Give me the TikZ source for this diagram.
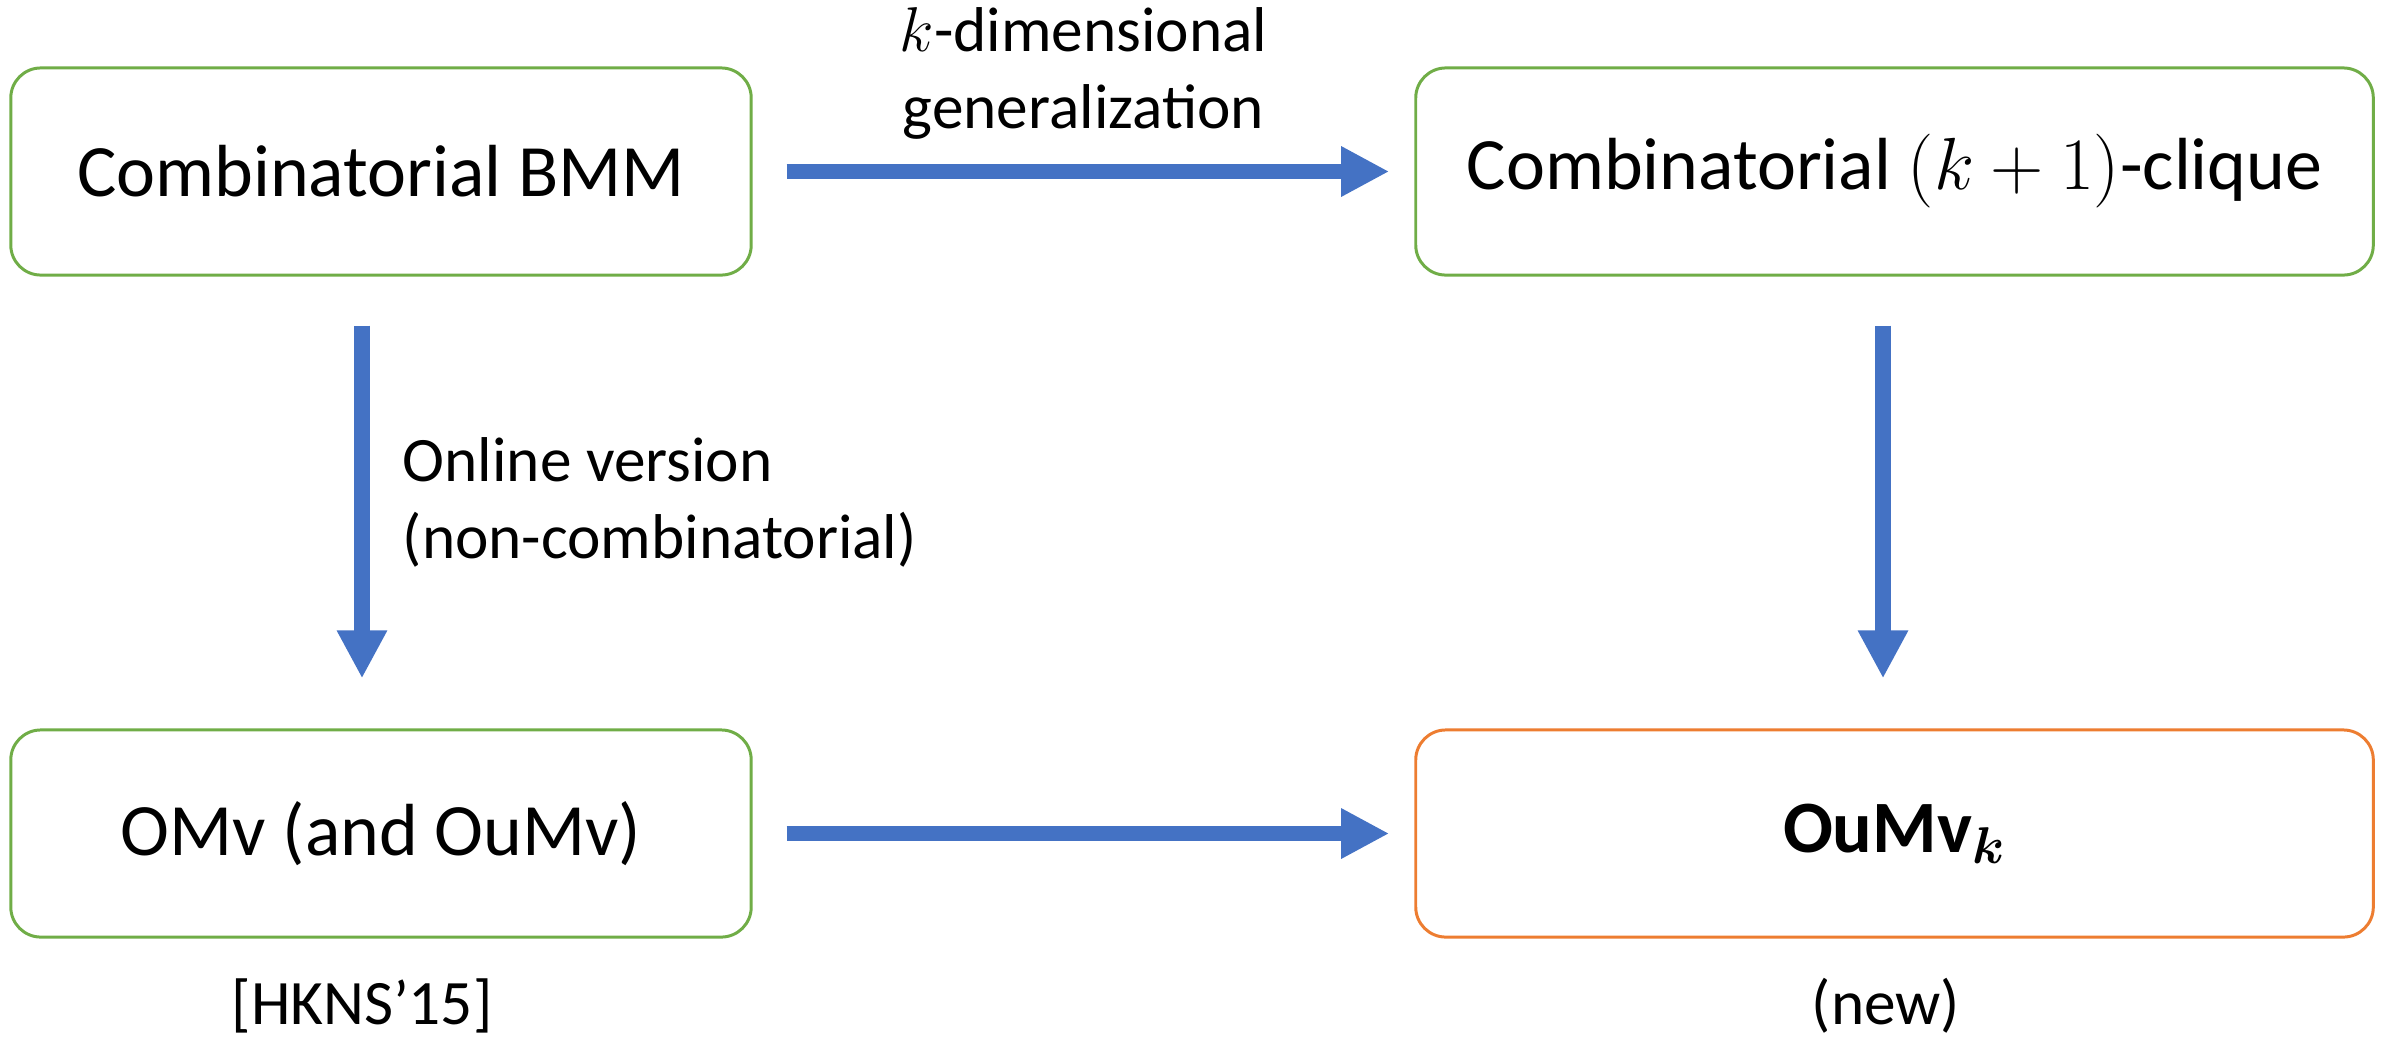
\RequirePackage{fix-cm}
\documentclass[tikz,border=0pt]{standalone}
\usepackage{amsmath,amssymb}
\usepackage{fontspec}
\setmainfont{Carlito}
\usepackage{xcolor}
\usetikzlibrary{positioning,calc,arrows.meta}
\definecolor{boxgreen}{HTML}{70AD47}
\definecolor{boxorange}{HTML}{ED7D31}
\definecolor{arrowblue}{HTML}{4472C4}

\begin{document}
\begin{tikzpicture}[x=0.01cm,y=-0.01cm,
        problem/.style={draw=boxgreen, line width=0.85pt, rounded corners=0.3cm, minimum height=2.07cm, inner sep=0pt, font=\fontsize{21}{25}\selectfont},
        reduce/.style={draw=arrowblue, line width=0.156cm, -{Triangle[length=0.48cm,width=0.47cm]}},
        note/.style={inner sep=0pt, font=\fontsize{18}{21.9}\selectfont}]
        \useasboundingbox (0,0) rectangle (2389,1042);
        % problems
        \node[problem, minimum width=7.40cm] (bmm) at (381,171.5) {Combinatorial BMM};
        \node[problem, minimum width=9.57cm] (clique) at (1894.5,171.5) {Combinatorial $(k+1)$-clique};
        \node[problem, minimum width=7.40cm] (omv) at (381,833.5) {OMv (and OuMv)};
        \node[problem, draw=boxorange, minimum width=9.57cm] (oumvk) at (1894.5,833.5) {\textbf{OuMv}$_{\boldsymbol{k}}$};
        % reductions
        \draw[reduce, shorten <=0.34cm, shorten >=0.25cm] (bmm.east) -- node[note, above=0.24cm, align=center] (gen) {$k$-dimensional\\generalization} (clique.west);
        \draw[reduce, shorten <=0.49cm, shorten >=0.5cm] ([xshift=-0.19cm]bmm.south) -- node[note, right=0.33cm, align=left] (online) {Online version\\(non-combinatorial)} ([xshift=-0.19cm]omv.north);
        \draw[reduce, shorten <=0.49cm, shorten >=0.5cm] ([xshift=-0.115cm]clique.south) -- ([xshift=-0.115cm]oumvk.north);
        \draw[reduce, shorten <=0.34cm, shorten >=0.25cm] (omv.east) -- (oumvk.west);
        % sources
        \node[note, anchor=base] (hkns) at (362,1024) {[HKNS’15]};
        \node[note, anchor=base] (new) at (1886,1024) {(new)};
\end{tikzpicture}
\end{document}
